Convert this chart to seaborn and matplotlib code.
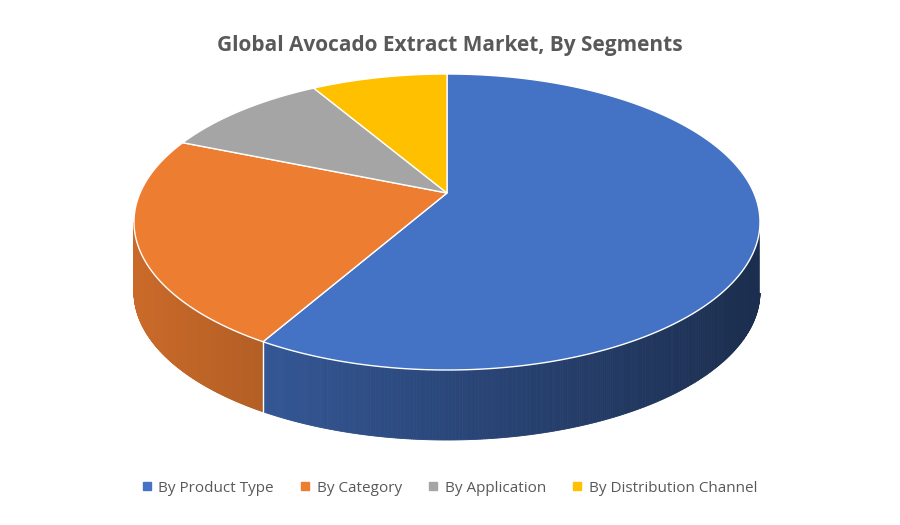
import numpy as np
import matplotlib.pyplot as plt
import matplotlib.colors as mcolors
from matplotlib.patches import Patch
import seaborn as sns

# segment shares (percent)
segments = ["By Product Type", "By Category", "By Application", "By Distribution Channel"]
shares = [60, 24, 9, 7]
colors = ["#4472C4", "#ED7D31", "#A5A5A5", "#FFC000"]

sns.set_theme(style="white")
plt.rcParams['font.family'] = ['Open Sans', 'DejaVu Sans']

fig = plt.figure(figsize=(9, 5.25), dpi=100)
ax = fig.add_axes([0, 0, 1, 1])
ax.set_xlim(0, 900)
ax.set_ylim(525, 0)
ax.axis("off")

# ellipse geometry in pixel space
cx, cy, rx, ry, depth = 447, 222, 313, 148, 70
vx, vy = 447, 193  # apparent apex of the slices


def arc(a0, a1, n=200):
    t = np.radians(np.linspace(a0, a1, n))
    return cx + rx * np.sin(t), cy - ry * np.cos(t)


bounds = np.concatenate([[0], np.cumsum(shares)]) / sum(shares) * 360

# side walls (only the front half, 90..270 degrees)
for i, col in enumerate(colors):
    a0, a1 = max(bounds[i], 90), min(bounds[i + 1], 270)
    if a0 >= a1:
        continue
    xs, ys = arc(a0, a1, 300)
    base = np.array(mcolors.to_rgb(col))
    for k in range(len(xs) - 1):
        t = (xs[k] - (cx - rx)) / (2 * rx)
        c = np.clip(base * (0.85 - 0.45 * t), 0, 1)
        ax.fill([xs[k], xs[k + 1], xs[k + 1], xs[k]],
                [ys[k], ys[k + 1], ys[k + 1] + depth, ys[k] + depth],
                color=c, lw=0.6, ec=c)
    # edge between visible wall segments
    ax.plot([xs[0], xs[0]], [ys[0], ys[0] + depth], color="white", lw=1)

# top faces
for i, col in enumerate(colors):
    xs, ys = arc(bounds[i], bounds[i + 1])
    ax.fill(np.r_[vx, xs], np.r_[vy, ys], color=col, ec="white", lw=1)

ax.text(450, 45, "Global Avocado Extract Market, By Segments", ha="center",
        va="center", fontsize=15, fontweight="bold", color="#595959")

handles = [Patch(color=c, label=s) for c, s in zip(colors, segments)]
ax.legend(handles=handles, loc="center", bbox_to_anchor=(0.5, 1 - 488 / 525),
          ncol=4, frameon=False, fontsize=11, handlelength=0.5, handleheight=0.5,
          columnspacing=1.8, handletextpad=0.5, labelcolor="#595959")

fig.savefig("out.png", dpi=100)
